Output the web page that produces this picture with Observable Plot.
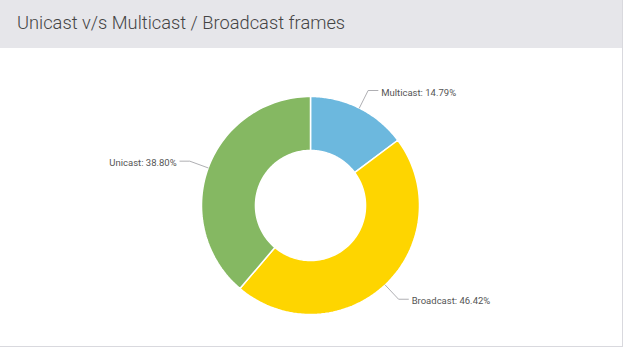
<!DOCTYPE html>
<html>
<head>
<meta charset="utf-8">
<script src="https://cdn.jsdelivr.net/npm/d3@7"></script>
<script src="https://cdn.jsdelivr.net/npm/@observablehq/plot@0.6"></script>
<style>
  html, body { margin: 0; padding: 0; background: #fff; }
  #panel { width: 622px; height: 346px; border-right: 1px solid #d9d9de; border-bottom: 1px solid #d9d9de; overflow: hidden; }
  #header { height: 48px; background: #e6e6ea; font-family: Roboto, "Noto Sans", sans-serif; font-weight: 300; font-size: 18.3px; color: #444; line-height: 46px; padding-left: 17px; }
  #chart svg { display: block; }
</style>
</head>
<body>
<div id="panel">
  <div id="header">Unicast v/s Multicast / Broadcast frames</div>
  <div id="chart"></div>
</div>
<script>
const categories = ["Multicast", "Broadcast", "Unicast"];
const values = [14.79, 46.42, 38.80];
const labels = ["Multicast: 14.79%", "Broadcast: 46.42%", "Unicast: 38.80%"];
const colors = ["#6cb8de", "#fed500", "#85b862"];

const inner = 0.505, elbowR = 1.18, hLen = 0.09;
const total = d3.sum(values);
let acc = 0;
const slices = values.map((v, i) => {
  const a0 = acc / total * 2 * Math.PI;
  acc += v;
  const a1 = acc / total * 2 * Math.PI;
  return {cat: categories[i], a0, a1, mid: (a0 + a1) / 2, label: labels[i]};
});
const pt = (a, r) => [r * Math.sin(a), r * Math.cos(a)];

const poly = [];
for (const s of slices) {
  const n = 80;
  for (let k = 0; k <= n; k++) { const [x, y] = pt(s.a0 + (s.a1 - s.a0) * k / n, 1); poly.push({cat: s.cat, x, y}); }
  for (let k = n; k >= 0; k--) { const [x, y] = pt(s.a0 + (s.a1 - s.a0) * k / n, inner); poly.push({cat: s.cat, x, y}); }
}
const leaders = [];
const texts = [];
for (const s of slices) {
  const [x0, y0] = pt(s.mid, 1.0);
  const [x1, y1] = pt(s.mid, elbowR);
  const side = Math.sin(s.mid) >= 0 ? 1 : -1;
  const x2 = x1 + side * hLen;
  leaders.push({cat: s.cat, x: x0, y: y0}, {cat: s.cat, x: x1, y: y1}, {cat: s.cat, x: x2, y: y1});
  texts.push({x: x2 + side * 0.03, y: y1, text: s.label, anchor: side > 0 ? "start" : "end"});
}

const W = 622, H = 298, R = 109, cx = 310, cy = 157;
const plot = Plot.plot({
  width: W, height: H,
  margin: 0,
  x: {domain: [-cx / R, (W - cx) / R], range: [0, W], axis: null},
  y: {domain: [-(H - cy) / R, cy / R], range: [H, 0], axis: null},
  color: {domain: categories, range: colors},
  marks: [
    Plot.line(poly, {x: "x", y: "y", z: "cat", fill: "cat", stroke: "#fff", strokeWidth: 1.5, curve: "linear-closed"}),
    Plot.line(leaders, {x: "x", y: "y", z: "cat", stroke: "#9a9aa0", strokeWidth: 0.8}),
    Plot.text(texts.filter(d => d.anchor === "start"), {x: "x", y: "y", text: "text", textAnchor: "start", fill: "#555", fontSize: 9.5, dy: 2, fontFamily: "Roboto, sans-serif"}),
    Plot.text(texts.filter(d => d.anchor === "end"), {x: "x", y: "y", text: "text", textAnchor: "end", fill: "#555", fontSize: 9.5, dy: 2, fontFamily: "Roboto, sans-serif"})
  ]
});
document.getElementById("chart").appendChild(plot);
</script>
</body>
</html>
